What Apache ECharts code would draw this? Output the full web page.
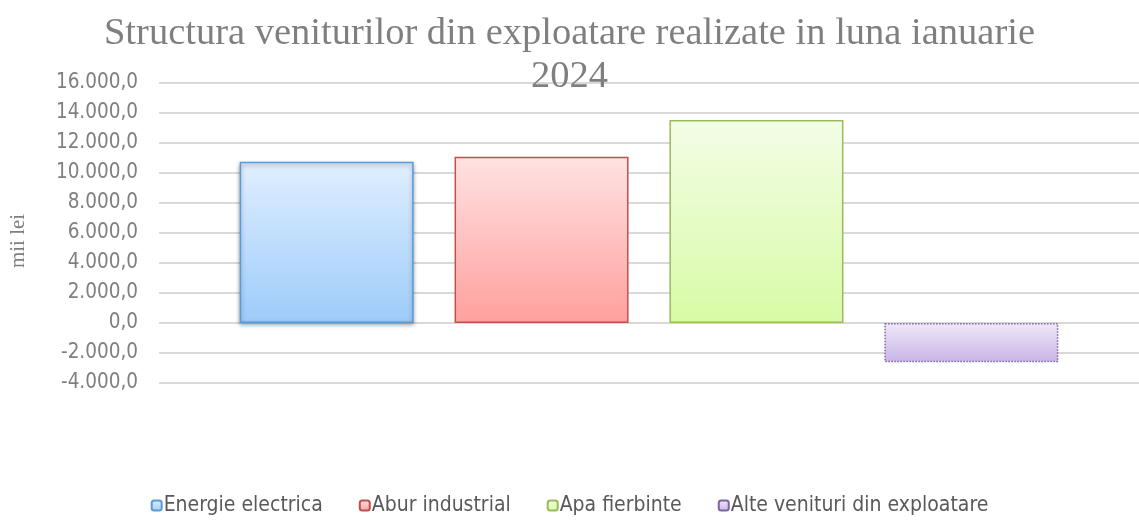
<!DOCTYPE html>
<html>
<head>
<meta charset="utf-8">
<script src="https://cdn.jsdelivr.net/npm/echarts@6/dist/echarts.min.js"></script>
<style>
html, body { margin: 0; padding: 0; background: #fff; }
#main { width: 1139px; height: 521px; }
</style>
</head>
<body>
<div id="main"></div>
<script>
// date (mii lei)
var categories = [''];
var seriesNames = ['Energie electrica', 'Abur industrial', 'Apa fierbinte', 'Alte venituri din exploatare'];
var seriesValues = [10750, 11090, 13530, -2620];
var yMin = -4000, yMax = 16000, yStep = 2000;

var culori = [
	{ top: '#e0efff', bottom: '#9dcbfa', border: '#5b9bd5', type: 'solid' },
	{ top: '#ffe2e2', bottom: '#ffa09e', border: '#c0504d', type: 'solid' },
	{ top: '#f3fde6', bottom: '#d8fba6', border: '#9bbb59', type: 'solid' },
	{ top: '#efe8f8', bottom: '#c8b5e7', border: '#8064a2', type: 'dotted' }
];

function formatRo(v) {
	var s = Math.abs(v).toFixed(1).split('.');
	var intPart = s[0].replace(/\B(?=(\d{3})+(?!\d))/g, '.');
	return (v < 0 ? '-' : '') + intPart + ',' + s[1];
}

var myChart = echarts.init(document.getElementById('main'));

var series = [];
for (var i = 0; i < seriesNames.length; i++) {
	var c = culori[i];
	series.push({
		name: seriesNames[i],
		type: 'bar',
		data: [seriesValues[i]],
		barWidth: 174,
		barGap: '23.5%',
		itemStyle: {
			color: new echarts.graphic.LinearGradient(0, 0, 0, 1, [
				{ offset: 0, color: c.top },
				{ offset: 1, color: c.bottom }
			]),
			borderColor: c.border,
			borderWidth: 1.5,
			borderType: c.type,
			shadowColor: i == 0 ? 'rgba(0,0,0,0.35)' : 'rgba(0,0,0,0)',
			shadowBlur: i == 0 ? 4 : 0,
			shadowOffsetY: i == 0 ? 2 : 0
		}
	});
}

var option = {
	animation: false,
	title: {
		text: 'Structura veniturilor din exploatare realizate in luna ianuarie\n2024',
		left: 'center',
		top: 7,
		textStyle: {
			fontFamily: 'Liberation Serif',
			fontSize: 38.5,
			fontWeight: 'normal',
			color: '#7f7f7f',
			lineHeight: 43
		}
	},
	legend: {
		data: seriesNames,
		bottom: 0,
		left: 'center',
		itemWidth: 10,
		itemHeight: 10,
		itemGap: 36,
		textStyle: {
			fontFamily: 'DejaVu Sans Condensed',
			fontSize: 21,
			color: '#595959',
			padding: [0, 0, 0, -3]
		}
	},
	grid: {
		left: 158,
		right: 0,
		top: 83,
		bottom: 138,
		containLabel: false
	},
	xAxis: {
		type: 'category',
		data: categories,
		axisLine: { show: false },
		axisTick: { show: false },
		axisLabel: { show: false }
	},
	yAxis: {
		type: 'value',
		min: yMin,
		max: yMax,
		interval: yStep,
		name: 'mii lei',
		nameLocation: 'middle',
		nameGap: 130,
		nameRotate: 90,
		nameTextStyle: {
			fontFamily: 'Liberation Serif',
			fontSize: 21,
			color: '#7f7f7f',
			padding: [0, 16, 0, 0]
		},
		axisLine: { show: false },
		axisTick: { show: false },
		axisLabel: {
			formatter: formatRo,
			fontFamily: 'DejaVu Sans Condensed',
			fontSize: 20.5,
			color: '#7f7f7f',
			margin: 21
		},
		splitLine: { lineStyle: { color: '#d9d9d9', width: 2 } }
	},
	series: series
};
myChart.setOption(option);
</script>
</body>
</html>
